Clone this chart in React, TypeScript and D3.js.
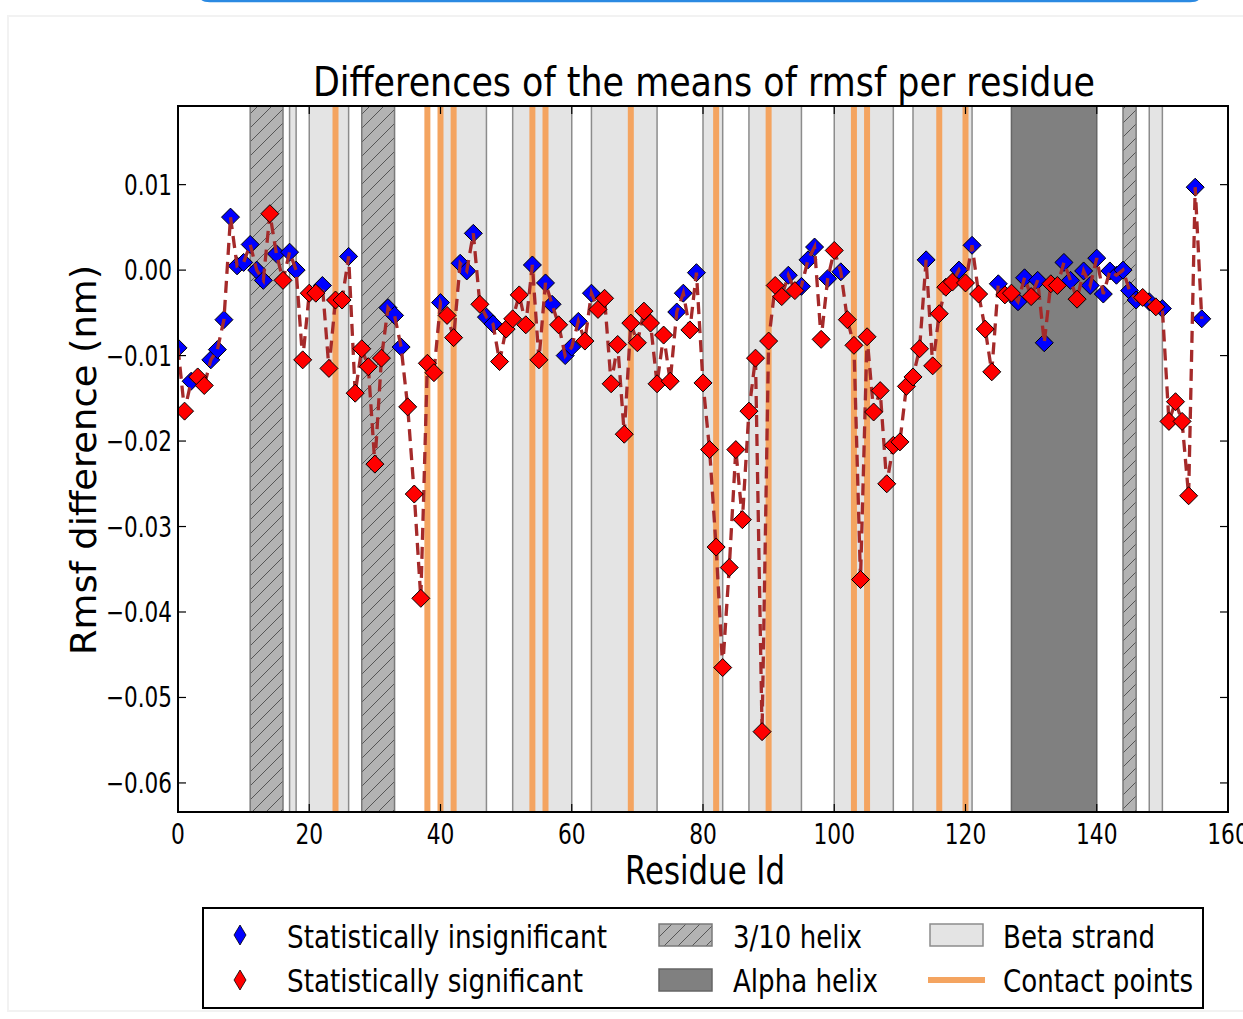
import * as d3 from "d3";

// rmsf difference per residue (nm), residue id = index
const rmsfDiff = [
  -0.0091, -0.0165, -0.013, -0.0125, -0.0135, -0.0105, -0.0093, -0.0058, 0.0062, 0.0005,
  0.0009, 0.003, 0.0, -0.0012, 0.0066, 0.0019, -0.0012, 0.0021, 0.0, -0.0105,
  -0.0027, -0.0027, -0.0018, -0.0115, -0.0035, -0.0035, 0.0016, -0.0144, -0.0092, -0.0113,
  -0.0227, -0.0103, -0.0044, -0.0053, -0.009, -0.016, -0.0262, -0.0384, -0.0109, -0.012,
  -0.0038, -0.0053, -0.0079, 0.0008, -0.0001, 0.0043, -0.004, -0.0055, -0.0063, -0.0107,
  -0.0069, -0.0057, -0.0029, -0.0064, 0.0006, -0.0105, -0.0015, -0.004, -0.0064, -0.01,
  -0.009, -0.006, -0.0083, -0.0027, -0.0046, -0.0033, -0.0133, -0.0087, -0.0192, -0.0062,
  -0.0085, -0.0048, -0.0062, -0.0133, -0.0076, -0.013, -0.0049, -0.0027, -0.007, -0.0003,
  -0.0132, -0.021, -0.0324, -0.0465, -0.0348, -0.021, -0.0292, -0.0165, -0.0103, -0.054,
  -0.0083, -0.0018, -0.0031, -0.0006, -0.0024, -0.0019, 0.0012, 0.0027, -0.0081, -0.001,
  0.0023, -0.0002, -0.0058, -0.0088, -0.0362, -0.0078, -0.0166, -0.0141, -0.025, -0.0205,
  -0.0201, -0.0136, -0.0125, -0.0092, 0.0012, -0.0112, -0.0051, -0.002, -0.0014, 0.0,
  -0.0015, 0.0029, -0.0028, -0.0069, -0.0119, -0.0016, -0.0029, -0.0027, -0.0037, -0.0009,
  -0.0031, -0.0012, -0.0085, -0.0016, -0.0018, 0.0009, -0.0012, -0.0034, -0.0001, -0.0018,
  0.0014, -0.0028, -0.0001, -0.0006, 0.0, -0.0024, -0.0035, -0.0032, -0.0037, -0.0043,
  -0.0045, -0.0177, -0.0154, -0.0177, -0.0264, 0.0097, -0.0057,
];
// 1 = statistically significant
const significant = [
  0, 1, 0, 1, 1, 0, 0, 0, 0, 0,
  0, 0, 0, 0, 1, 0, 1, 0, 0, 1,
  1, 1, 0, 1, 1, 1, 0, 1, 1, 1,
  1, 1, 0, 0, 0, 1, 1, 1, 1, 1,
  0, 1, 1, 0, 0, 0, 1, 0, 0, 1,
  1, 1, 1, 1, 0, 1, 0, 0, 1, 0,
  0, 0, 1, 0, 1, 1, 1, 1, 1, 1,
  1, 1, 1, 1, 1, 1, 0, 0, 1, 0,
  1, 1, 1, 1, 1, 1, 1, 1, 1, 1,
  1, 1, 1, 0, 1, 0, 0, 0, 1, 0,
  1, 0, 1, 1, 1, 1, 1, 1, 1, 1,
  1, 1, 1, 1, 0, 1, 1, 1, 1, 0,
  1, 0, 1, 1, 1, 0, 1, 1, 0, 0,
  1, 0, 0, 1, 1, 0, 0, 1, 0, 0,
  0, 0, 0, 0, 0, 0, 0, 1, 0, 1,
  0, 1, 1, 1, 1, 0, 0,
];

const helix310 = [[11, 16], [28, 33], [144, 146]];
const alphaHelix = [[127, 140]];
const betaStrand = [
  [17, 18], [20, 26], [40, 47], [51, 60], [63, 73], [80, 83],
  [87, 95], [100, 109], [112, 121], [148, 150],
];
const contactPoints = [24, 38, 40, 42, 54, 56, 69, 82, 90, 103, 105, 116, 120];

const xTicks = [0, 20, 40, 60, 80, 100, 120, 140, 160];
const yTicks = [0.01, 0, -0.01, -0.02, -0.03, -0.04, -0.05, -0.06];

const W = 1243;
const H = 1019;
const left = 178, right = 1228, top = 106, bottom = 812;
const font = "'DejaVu Sans', sans-serif";

const diamond = (cx: number, cy: number, rx: number, ry: number) =>
  `M${cx},${cy - ry}L${cx + rx},${cy}L${cx},${cy + ry}L${cx - rx},${cy}Z`;

const App = () => {
  const x = d3.scaleLinear().domain([0, 160]).range([left, right]);
  const y = d3.scaleLinear().domain([-0.0634, 0.0192]).range([bottom, top]);
  const pts = rmsfDiff.map((v, i) => ({ i, v, sig: significant[i] === 1 }));
  const line = d3.line<{ i: number; v: number }>().x((d) => x(d.i)).y((d) => y(d.v));
  const fmt = (t: number) => (t < 0 ? "\u2212" : "") + Math.abs(t).toFixed(2);

  return (
    <svg width={W} height={H} style={{ position: "absolute", left: 0, top: 0, display: "block", background: "#fff" }}>
      <defs>
        <pattern id="hatch" patternUnits="userSpaceOnUse" width="14" height="14">
          <rect width="14" height="14" fill="#b3b3b3" />
          <path d="M0,14L14,0M-3,3L3,-3M11,17L17,11" stroke="#555" strokeWidth="1" />
        </pattern>
        <clipPath id="plot">
          <rect x={left} y={top} width={right - left} height={bottom - top} />
        </clipPath>
      </defs>

      {/* page frame bits */}
      <rect x={8} y={16} width={W} height={H - 24} fill="none" stroke="#f2f2f2" strokeWidth={2} />
      <path d="M200,-10 L200,-6 Q200,1 210,1 L1190,1 Q1200,1 1200,-6 L1200,-10" fill="none" stroke="#2b8ae2" strokeWidth={2.5} />

      <text x={704} y={96} textAnchor="middle" fontFamily={font} fontSize={41} textLength={782} lengthAdjust="spacingAndGlyphs">
        Differences of the means of rmsf per residue
      </text>

      <g clipPath="url(#plot)">
        {betaStrand.map(([a, b], k) => (
          <rect key={"b" + k} x={x(a)} y={top} width={x(b) - x(a)} height={bottom - top} fill="#e4e4e4" stroke="#8c8c8c" strokeWidth={1.5} />
        ))}
        {helix310.map(([a, b], k) => (
          <rect key={"h" + k} x={x(a)} y={top} width={x(b) - x(a)} height={bottom - top} fill="url(#hatch)" stroke="#7a7a7a" strokeWidth={1.5} />
        ))}
        {alphaHelix.map(([a, b], k) => (
          <rect key={"a" + k} x={x(a)} y={top} width={x(b) - x(a)} height={bottom - top} fill="#808080" stroke="#666" strokeWidth={1.5} />
        ))}
        {contactPoints.map((c) => (
          <line key={"c" + c} x1={x(c)} x2={x(c)} y1={top} y2={bottom} stroke="#f4a460" strokeWidth={6} />
        ))}
        {pts.filter((d) => !d.sig).map((d) => (
          <path key={"p" + d.i} d={diamond(x(d.i), y(d.v), 9, 9)} fill="#0000ff" stroke="#000" strokeWidth={1} />
        ))}
        <path d={line(pts) || ""} fill="none" stroke="#a52a2a" strokeWidth={3.3} strokeDasharray="12,7" />
        {pts.filter((d) => d.sig).map((d) => (
          <path key={"p" + d.i} d={diamond(x(d.i), y(d.v), 9, 9)} fill="#ff0000" stroke="#000" strokeWidth={1} />
        ))}
      </g>

      {/* frame and ticks */}
      <rect x={left} y={top} width={right - left} height={bottom - top} fill="none" stroke="#000" strokeWidth={2} />
      {xTicks.map((t) => (
        <g key={"xt" + t}>
          <line x1={x(t)} x2={x(t)} y1={bottom} y2={bottom - 8} stroke="#000" strokeWidth={1.2} />
          <line x1={x(t)} x2={x(t)} y1={top} y2={top + 8} stroke="#000" strokeWidth={1.2} />
          <text transform={`translate(${x(t)},${844}) scale(0.75,1)`} textAnchor="middle" fontFamily={font} fontSize={29}>
            {t}
          </text>
        </g>
      ))}
      {yTicks.map((t) => (
        <g key={"yt" + t}>
          <line x1={left} x2={left + 8} y1={y(t)} y2={y(t)} stroke="#000" strokeWidth={1.2} />
          <line x1={right} x2={right - 8} y1={y(t)} y2={y(t)} stroke="#000" strokeWidth={1.2} />
          <text transform={`translate(${left - 6},${y(t) + 10}) scale(0.77,1)`} textAnchor="end" fontFamily={font} fontSize={28}>
            {fmt(t)}
          </text>
        </g>
      ))}

      <text x={705} y={884} textAnchor="middle" fontFamily={font} fontSize={39} textLength={160} lengthAdjust="spacingAndGlyphs">
        Residue Id
      </text>
      <text transform="translate(96,460) rotate(-90)" textAnchor="middle" fontFamily={font} fontSize={36} textLength={390} lengthAdjust="spacingAndGlyphs">
        Rmsf difference (nm)
      </text>

      {/* legend */}
      <g fontFamily={font} fontSize={32}>
        <rect x={203} y={908} width={1000} height={100} fill="#fff" stroke="#000" strokeWidth={2} />
        <path d={diamond(240, 935, 6, 10)} fill="#0000ff" stroke="#000" strokeWidth={0.8} />
        <path d={diamond(240, 980, 6, 10)} fill="#ff0000" stroke="#000" strokeWidth={0.8} />
        <text x={287} y={948} textLength={320} lengthAdjust="spacingAndGlyphs">Statistically insignificant</text>
        <text x={287} y={992} textLength={296} lengthAdjust="spacingAndGlyphs">Statistically significant</text>
        <rect x={659} y={924} width={53} height={22} fill="url(#hatch)" stroke="#7a7a7a" strokeWidth={1.5} />
        <rect x={659} y={969} width={53} height={22} fill="#808080" stroke="#666" strokeWidth={1.5} />
        <text x={733} y={948} textLength={129} lengthAdjust="spacingAndGlyphs">3/10 helix</text>
        <text x={733} y={992} textLength={145} lengthAdjust="spacingAndGlyphs">Alpha helix</text>
        <rect x={930} y={924} width={53} height={22} fill="#e4e4e4" stroke="#8c8c8c" strokeWidth={1.5} />
        <line x1={928} x2={985} y1={980} y2={980} stroke="#f4a460" strokeWidth={6} />
        <text x={1003} y={948} textLength={152} lengthAdjust="spacingAndGlyphs">Beta strand</text>
        <text x={1003} y={992} textLength={190} lengthAdjust="spacingAndGlyphs">Contact points</text>
      </g>
    </svg>
  );
};

export default App;
